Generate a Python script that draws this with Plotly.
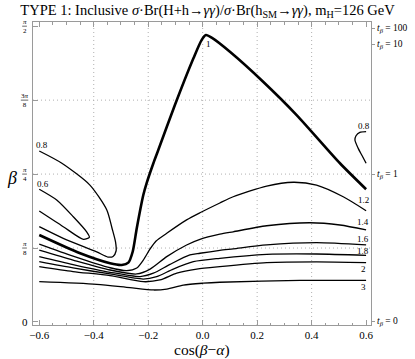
import numpy as np
import plotly.graph_objects as go

# contour lines: x = cos(beta-alpha), y = beta (rad)
c1_x = [-0.6, -0.45, -0.34, -0.297, -0.273, -0.257, -0.242, -0.218, -0.206, -0.181, -0.163,
        -0.102, -0.034, -0.004, 0.012, 0.033, 0.1, 0.222, 0.345, 0.504, 0.6]
c1_y = [0.462, 0.365, 0.312, 0.303, 0.315, 0.373, 0.498, 0.674, 0.736, 0.843, 0.913,
        1.152, 1.4, 1.497, 1.524, 1.51, 1.435, 1.276, 1.099, 0.843, 0.705]

c08_x = [-0.6, -0.517, -0.414, -0.352, -0.333, -0.32, -0.318, -0.329, -0.348, -0.389, -0.512, -0.6]
c08_y = [0.908, 0.843, 0.727, 0.595, 0.499, 0.425, 0.377, 0.348, 0.345, 0.372, 0.444, 0.506]

c08r_x = [0.6, 0.585, 0.571, 0.559, 0.563, 0.577, 0.6]
c08r_y = [0.843, 0.884, 0.922, 0.966, 0.989, 1.007, 1.011]

c06_x = [-0.6, -0.536, -0.475, -0.426, -0.416, -0.438, -0.512, -0.6]
c06_y = [0.705, 0.648, 0.559, 0.479, 0.45, 0.439, 0.506, 0.589]

c12_x = [-0.6, -0.476, -0.34, -0.279, -0.242, -0.218, -0.193, -0.171, -0.132, -0.059, -0.01,
         0.063, 0.112, 0.235, 0.333, 0.418, 0.516, 0.6]
c12_y = [0.414, 0.35, 0.288, 0.273, 0.287, 0.329, 0.388, 0.43, 0.471, 0.542, 0.58,
         0.632, 0.665, 0.722, 0.742, 0.727, 0.665, 0.591]

c14_x = [-0.6, -0.476, -0.34, -0.242, -0.193, -0.132, -0.059, -0.01, 0.063, 0.112, 0.235, 0.394, 0.504, 0.6]
c14_y = [0.382, 0.329, 0.276, 0.255, 0.281, 0.347, 0.409, 0.439, 0.466, 0.479, 0.511, 0.527, 0.515, 0.489]

c16_x = [-0.6, -0.476, -0.34, -0.23, -0.181, -0.12, -0.047, -0.01, 0.063, 0.112, 0.235, 0.418, 0.6]
c16_y = [0.347, 0.305, 0.264, 0.241, 0.259, 0.306, 0.356, 0.365, 0.38, 0.388, 0.409, 0.421, 0.409]

c18_x = [-0.6, -0.476, -0.34, -0.218, -0.169, -0.108, -0.034, 0.063, 0.235, 0.418, 0.6]
c18_y = [0.32, 0.287, 0.255, 0.228, 0.241, 0.281, 0.32, 0.338, 0.359, 0.361, 0.354]

c2_x = [-0.6, -0.476, -0.34, -0.218, -0.157, -0.095, -0.022, 0.063, 0.235, 0.418, 0.6]
c2_y = [0.294, 0.268, 0.246, 0.214, 0.223, 0.259, 0.281, 0.294, 0.315, 0.319, 0.315]

c3_x = [-0.6, -0.389, -0.267, -0.181, -0.132, -0.071, 0.002, 0.063, 0.357, 0.6]
c3_y = [0.214, 0.2, 0.182, 0.17, 0.175, 0.196, 0.206, 0.211, 0.221, 0.221]

contours = [
    (c08_x, c08_y, 1.3), (c08r_x, c08r_y, 1.3), (c06_x, c06_y, 1.3),
    (c12_x, c12_y, 1.3), (c14_x, c14_y, 1.3), (c16_x, c16_y, 1.3),
    (c18_x, c18_y, 1.3), (c2_x, c2_y, 1.3), (c3_x, c3_y, 1.3),
    (c1_x, c1_y, 2.6),
]

# contour labels
label_text = ["0.8", "0.6", "1", "0.8", "1.2", "1.4", "1.6", "1.8", "2", "3"]
label_x = [-0.59, -0.585, 0.021, 0.592, 0.589, 0.587, 0.589, 0.589, 0.592, 0.592]
label_y = [0.94, 0.731, 1.475, 1.041, 0.648, 0.533, 0.439, 0.377, 0.281, 0.187]

x_ticks = [-0.6, -0.4, -0.2, 0.0, 0.2, 0.4, 0.6]
x_ticktext = ["\u22120.6", "\u22120.4", "\u22120.2", "0.0", "0.2", "0.4", "0.6"]
x_grid = [-0.4, -0.2, 0.0, 0.2, 0.4]
beta_ticks = [0, np.pi / 8, np.pi / 4, 3 * np.pi / 8, np.pi / 2]
beta_num = [None, "<i>π</i>", "<i>π</i>", "3<i>π</i>", "<i>π</i>"]
beta_den = [None, "8", "4", "8", "2"]
beta_grid = [np.pi / 8, np.pi / 4, 3 * np.pi / 8]
tb_values = [0, 1, 10, 100]

FONT = "Liberation Serif, Times New Roman, serif"
FRAME = "#9a9a9a"
GRID = "#b0b0b0"

fig = go.Figure()
for cx, cy, w in contours:
    fig.add_trace(go.Scatter(
        x=cx, y=cy, mode="lines",
        line=dict(color="black", width=w, shape="spline", smoothing=0.7),
        showlegend=False, hoverinfo="skip",
    ))

# invisible trace on the right axis so it gets drawn
fig.add_trace(go.Scatter(x=[0], y=[0], yaxis="y2", mode="markers",
                         marker=dict(opacity=0), showlegend=False, hoverinfo="skip"))

# dotted grid (not at the frame edges)
for gx in x_grid:
    fig.add_shape(type="line", xref="x", yref="paper", x0=gx, x1=gx, y0=0, y1=1,
                  line=dict(color=GRID, width=1, dash="1px,3px"), layer="below")
for gy in beta_grid:
    fig.add_shape(type="line", xref="paper", yref="y", x0=0, x1=1, y0=gy, y1=gy,
                  line=dict(color=GRID, width=1, dash="1px,3px"), layer="below")

for t, lx, ly in zip(label_text, label_x, label_y):
    fig.add_annotation(x=lx, y=ly, text=t, showarrow=False,
                       font=dict(family=FONT, size=9, color="black"))

# left tick labels as small fractions
lab_x = -0.025
for v, num, den in zip(beta_ticks, beta_num, beta_den):
    if num is None:
        fig.add_annotation(x=lab_x, y=v, xref="paper", yref="y", text="0", showarrow=False,
                           xanchor="center", yanchor="middle",
                           font=dict(family=FONT, size=11, color="black"))
        continue
    fig.add_annotation(x=lab_x, y=v, xref="paper", yref="y", text=num + "<br>" + den,
                       showarrow=False, xanchor="center", yanchor="middle",
                       font=dict(family=FONT, size=7, color="black"))
    half = 0.011 if num.startswith("3") else 0.007
    fig.add_shape(type="line", xref="paper", yref="y", x0=lab_x - half, x1=lab_x + half,
                  y0=v, y1=v, line=dict(color="black", width=0.6))

# right tick labels (tan beta)
for v in tb_values:
    fig.add_annotation(x=1.013, y=float(np.arctan(v)), xref="paper", yref="y",
                       text="<i>t</i><sub><i>β</i></sub> = %d" % v, showarrow=False,
                       xanchor="left", yanchor="middle",
                       font=dict(family=FONT, size=9.5, color="black"))

# axis titles
fig.add_annotation(x=-0.062, y=0.485, xref="paper", yref="paper", text="<i>β</i>",
                   showarrow=False, xanchor="center", yanchor="middle",
                   font=dict(family=FONT, size=18, color="black"))
fig.add_annotation(x=0.5, y=-0.084, xref="paper", yref="paper", text="cos(<i>β</i>−<i>α</i>)",
                   showarrow=False, xanchor="center", yanchor="middle",
                   font=dict(family=FONT, size=15.5, color="black"))

xr = [-0.623, 0.618]
yr = [-0.016, 1.593]

fig.update_layout(
    width=415, height=359,
    margin=dict(l=33, r=44, t=22, b=34),
    paper_bgcolor="white", plot_bgcolor="white",
    font=dict(family=FONT, color="black"),
    title=dict(
        text="TYPE 1: Inclusive <i>σ</i>·Br(H+h→<i>γγ</i>)/<i>σ</i>·Br(h<sub>SM</sub>→<i>γγ</i>), m<sub>H</sub>=126 GeV",
        x=0.5, xanchor="center", y=0.972, yanchor="middle",
        font=dict(family=FONT, size=14.5, color="black"),
    ),
    xaxis=dict(
        range=xr, tickvals=x_ticks, ticktext=x_ticktext, showgrid=False, automargin=False,
        zeroline=False, showline=True, linecolor=FRAME, linewidth=1, mirror="ticks",
        ticks="inside", ticklen=5, tickcolor=FRAME,
        minor=dict(dtick=0.05, tick0=0, ticks="inside", ticklen=2.5, tickcolor=FRAME, showgrid=False),
        tickfont=dict(family=FONT, size=11, color="black"),
    ),
    yaxis=dict(
        range=yr, tickvals=beta_ticks, ticktext=[""] * len(beta_ticks), showgrid=False,
        automargin=False,
        zeroline=False, showline=True, linecolor=FRAME, linewidth=1, mirror=True,
        ticks="inside", ticklen=5, tickcolor=FRAME,
    ),
    yaxis2=dict(
        range=yr, overlaying="y", side="right", automargin=False,
        tickvals=[float(np.arctan(v)) for v in tb_values],
        ticktext=[""] * len(tb_values),
        showgrid=False, zeroline=False, showline=False,
        ticks="outside", ticklen=3, tickcolor=FRAME,
    ),
)

# drop the default page margin so the 415x359 figure fills the window exactly
fig.write_html("out.html", config={"displayModeBar": False},
               post_script="document.body.style.margin='0';")
